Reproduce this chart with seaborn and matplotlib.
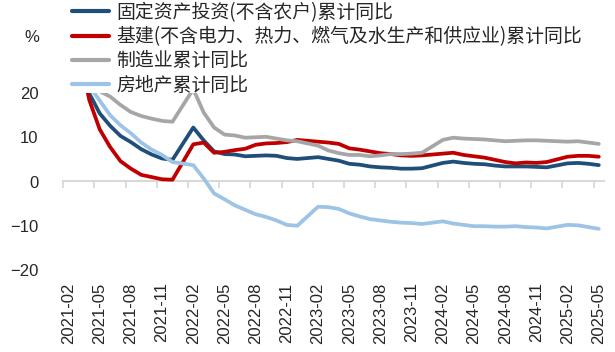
import pandas as pd
import matplotlib.pyplot as plt
import seaborn as sns
import numpy as np

nan = np.nan

# monthly categories 2021-02 .. 2025-05 (January has no cumulative print)
months = pd.period_range('2021-02', '2025-05', freq='M').strftime('%Y-%m').tolist()

names = ['固定资产投资(不含农户)累计同比',
         '基建(不含电力、热力、燃气及水生产和供应业)累计同比',
         '制造业累计同比',
         '房地产累计同比']
colors = ['#1F4E79', '#C00000', '#A6A6A6', '#9DC3E6']

fai = [35.0, 25.6, 19.9, 15.4, 12.6, 10.3, 8.9, 7.3, 6.1, 5.2, 4.9,
       nan, 12.2, 9.3, 6.8, 6.2, 6.1, 5.7, 5.8, 5.9, 5.8, 5.3, 5.1,
       nan, 5.5, 5.1, 4.7, 4.0, 3.8, 3.4, 3.2, 3.1, 2.9, 2.9, 3.0,
       nan, 4.2, 4.5, 4.2, 4.0, 3.9, 3.6, 3.4, 3.4, 3.4, 3.3, 3.2,
       nan, 4.1, 4.2, 4.0, 3.7]
infra = [36.6, 29.7, 18.4, 11.8, 7.8, 4.6, 2.9, 1.5, 1.0, 0.5, 0.4,
         nan, 8.4, 8.8, 6.5, 6.7, 7.1, 7.4, 8.3, 8.6, 8.7, 8.9, 9.4,
         nan, 9.0, 8.8, 8.5, 7.5, 7.2, 6.8, 6.4, 6.2, 5.9, 5.8, 5.9,
         nan, 6.3, 6.5, 6.0, 5.7, 5.4, 4.9, 4.4, 4.1, 4.3, 4.2, 4.4,
         nan, 5.6, 5.8, 5.8, 5.6]
manu = [37.3, 29.8, 23.8, 20.4, 19.2, 17.3, 15.7, 14.8, 14.2, 13.7, 13.5,
        nan, 20.9, 15.6, 12.2, 10.6, 10.4, 9.9, 10.0, 10.1, 9.7, 9.3, 9.1,
        nan, 8.1, 7.0, 6.4, 6.0, 6.0, 5.7, 5.9, 6.2, 6.2, 6.3, 6.5,
        nan, 9.4, 9.9, 9.7, 9.6, 9.5, 9.3, 9.1, 9.2, 9.3, 9.3, 9.2,
        nan, 9.0, 9.1, 8.8, 8.5]
estate = [38.3, 25.6, 21.6, 18.3, 15.0, 12.7, 10.9, 8.8, 7.2, 6.0, 4.4,
          nan, 3.7, 0.7, -2.7, -4.0, -5.4, -6.4, -7.4, -8.0, -8.8, -9.8, -10.0,
          nan, -5.7, -5.8, -6.2, -7.2, -7.9, -8.5, -8.8, -9.1, -9.3, -9.4, -9.6,
          nan, -9.0, -9.5, -9.8, -10.1, -10.1, -10.2, -10.2, -10.1, -10.3, -10.4, -10.6,
          nan, -9.8, -9.9, -10.3, -10.7]

df = pd.DataFrame({'month': months, names[0]: fai, names[1]: infra,
                   names[2]: manu, names[3]: estate})
df['pos'] = np.arange(len(df))
long = df.melt(id_vars=['month', 'pos'], var_name='series', value_name='value').dropna()

sns.set_style('white')
plt.rcParams['font.family'] = ['Liberation Sans', 'DejaVu Sans']

fig = plt.figure(figsize=(6.15, 3.52), dpi=100)
ax = fig.add_axes([63.3 / 615, 82 / 352, 540.7 / 615, 177 / 352])

sns.lineplot(data=long, x='pos', y='value', hue='series', hue_order=names,
             palette=colors, linewidth=2.7, ax=ax)

handles, labels = ax.get_legend_handles_labels()
ax.get_legend().remove()
for h in handles:
    h.set_linewidth(3)
fig.legend(handles, labels, loc='upper left', bbox_to_anchor=(72 / 615, 1 - 2 / 352),
           frameon=False, borderpad=0, borderaxespad=0, handlelength=1.95,
           handletextpad=0.4, labelspacing=0.17,
           prop={'family': ['Noto Sans CJK SC', 'DejaVu Sans'], 'size': 13.6})

ax.set_xlim(-0.5, len(months) - 0.5)
ax.set_ylim(-20, 20)
ax.set_xticks(df['pos'][::3])
ax.set_xticklabels(df['month'][::3], rotation=90)
ax.set_yticks([-20, -10, 0, 10, 20])
ax.tick_params(axis='x', length=0, pad=9, labelsize=12)
ax.tick_params(axis='y', length=0, pad=18, labelsize=12)
ax.set_xlabel('')
ax.set_ylabel('')
for s in ax.spines.values():
    s.set_visible(False)

# zero axis line with category-boundary tick marks
sec = ax.secondary_xaxis(0.5)
sec.set_xticks(np.arange(-0.5, len(months), 3))
sec.set_xticklabels([])
sec.tick_params(direction='in', length=5, width=1.3, color='#D9D9D9')
for s in sec.spines.values():
    s.set_color('#D9D9D9')
    s.set_linewidth(1.5)

fig.text(32 / 615, 1 - 37 / 352, '%', ha='center', va='center', fontsize=12)

plt.savefig('out.png', dpi=100)
